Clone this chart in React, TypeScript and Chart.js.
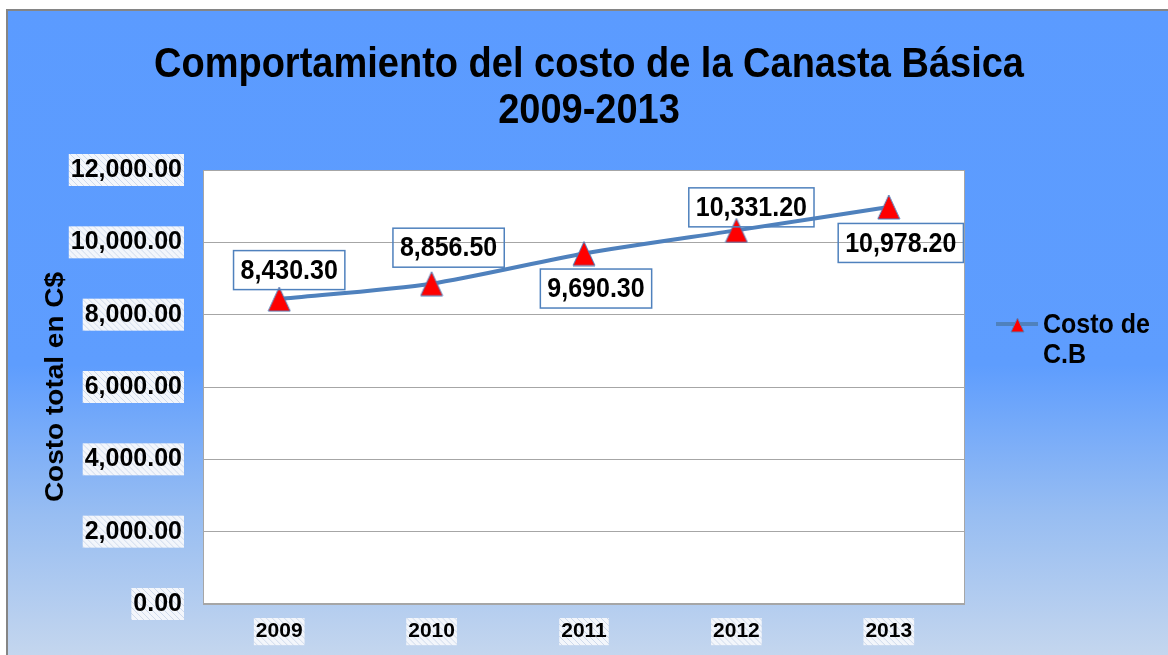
import React, { useEffect, useRef } from 'react';
import { Chart, registerables } from 'chart.js';

Chart.register(...registerables);

const years = ['2009', '2010', '2011', '2012', '2013'];
const costs = [8430.3, 8856.5, 9690.3, 10331.2, 10978.2];
const yMin = 0;
const yMax = 12000;
const yStep = 2000;
const titleLines = ['Comportamiento del costo de la Canasta Básica', '2009-2013'];
const yAxisTitle = 'Costo total en C$';
const legendLines = ['Costo de', 'C.B'];
// style: offset of each value label box relative to its point
const labelOffsets = [
  [10, -29],
  [17, -36],
  [12, 35],
  [15, -23],
  [12, 36],
];

const FAMILY = '"Liberation Sans", Arial, sans-serif';
const LINE_COLOR = '#4f81bd';
const STRETCH = 1.12;

const fmt = (v: number) =>
  Number(v).toLocaleString('en-US', { minimumFractionDigits: 2, maximumFractionDigits: 2 });

function makeTriangle(w: number, h: number, lw: number) {
  const c = document.createElement('canvas');
  c.width = w + 2;
  c.height = h + 2;
  const g = c.getContext('2d')!;
  g.beginPath();
  g.moveTo((w + 2) / 2, 1);
  g.lineTo(w + 1, h + 1);
  g.lineTo(1, h + 1);
  g.closePath();
  g.fillStyle = '#ff0000';
  g.fill();
  g.strokeStyle = LINE_COLOR;
  g.lineWidth = lw;
  g.stroke();
  return c;
}

function makePattern(ctx: CanvasRenderingContext2D) {
  const c = document.createElement('canvas');
  c.width = 6;
  c.height = 6;
  const g = c.getContext('2d')!;
  g.fillStyle = '#f3f6fb';
  g.fillRect(0, 0, 6, 6);
  g.strokeStyle = '#cfdaec';
  g.lineWidth = 1;
  g.beginPath();
  g.moveTo(-1, -1);
  g.lineTo(7, 7);
  g.moveTo(-4, 2);
  g.lineTo(4, 10);
  g.moveTo(2, -4);
  g.lineTo(10, 4);
  g.stroke();
  return ctx.createPattern(c, 'repeat');
}

const decorPlugin = {
  id: 'decor',
  beforeDraw(chart: any) {
    const { ctx, chartArea: a, width, height } = chart;
    ctx.save();
    ctx.fillStyle = '#ffffff';
    ctx.fillRect(0, 0, width, height);
    const grad = ctx.createLinearGradient(0, 11, 0, height);
    grad.addColorStop(0, '#5b9bff');
    grad.addColorStop(0.55, '#5e9dfe');
    grad.addColorStop(0.78, '#97bdf2');
    grad.addColorStop(1, '#c4d6ee');
    ctx.fillStyle = grad;
    ctx.fillRect(8, 11, width - 8, height - 11);
    ctx.strokeStyle = '#858585';
    ctx.lineWidth = 2;
    ctx.beginPath();
    ctx.moveTo(7, height);
    ctx.lineTo(7, 10);
    ctx.lineTo(width, 10);
    ctx.stroke();
    ctx.fillStyle = '#ffffff';
    ctx.fillRect(a.left, a.top, a.right - a.left, a.bottom - a.top);
    ctx.restore();
  },
  beforeDatasetsDraw(chart: any) {
    const { ctx, chartArea: a } = chart;
    ctx.save();
    ctx.strokeStyle = '#a6a6a6';
    ctx.lineWidth = 1;
    ctx.strokeRect(a.left + 0.5, a.top + 0.5, a.right - a.left - 1, a.bottom - a.top - 1);
    ctx.restore();
  },
  afterDatasetsDraw(chart: any) {
    const { ctx } = chart;
    const meta = chart.getDatasetMeta(0);
    ctx.save();
    ctx.font = `bold 25px ${FAMILY}`;
    ctx.textAlign = 'center';
    ctx.textBaseline = 'middle';
    meta.data.forEach((el: any, i: number) => {
      const text = fmt(costs[i]);
      const tw = ctx.measureText(text).width;
      const bw = tw + 14;
      const bh = 39;
      const cx = el.x + labelOffsets[i][0];
      const cy = el.y + labelOffsets[i][1];
      ctx.strokeStyle = LINE_COLOR;
      ctx.lineWidth = 1.5;
      ctx.strokeRect(cx - bw / 2, cy - bh / 2, bw, bh);
      ctx.save();
      ctx.translate(cx, cy + 1);
      ctx.scale(1, STRETCH);
      ctx.fillStyle = '#000';
      ctx.fillText(text, 0, 0);
      ctx.restore();
    });
    ctx.restore();
  },
  afterDraw(chart: any) {
    const { ctx, chartArea: a } = chart;
    ctx.save();
    ctx.fillStyle = '#000';
    // title
    ctx.font = `bold 38px ${FAMILY}`;
    ctx.textAlign = 'center';
    ctx.textBaseline = 'alphabetic';
    const baselines = [77, 123];
    titleLines.forEach((t, i) => {
      ctx.save();
      ctx.translate(589, baselines[i]);
      ctx.scale(1, STRETCH);
      ctx.fillText(t, 0, 0);
      ctx.restore();
    });
    // y axis title
    ctx.save();
    ctx.font = `bold 25px ${FAMILY}`;
    ctx.translate(56, (a.top + a.bottom) / 2);
    ctx.rotate(-Math.PI / 2);
    ctx.scale(STRETCH, 1);
    ctx.textBaseline = 'middle';
    ctx.fillText(yAxisTitle, 0, 0);
    ctx.restore();
    // legend
    ctx.strokeStyle = LINE_COLOR;
    ctx.lineWidth = 4;
    ctx.beginPath();
    ctx.moveTo(996, 324);
    ctx.lineTo(1038, 324);
    ctx.stroke();
    const tri = makeTriangle(13, 14, 1);
    ctx.drawImage(tri, 1017.5 - tri.width / 2, 325 - tri.height / 2);
    ctx.font = `bold 25px ${FAMILY}`;
    ctx.textAlign = 'left';
    const lb = [333, 363];
    legendLines.forEach((t, i) => {
      ctx.save();
      ctx.translate(1043, lb[i]);
      ctx.scale(1, STRETCH);
      ctx.fillText(t, 0, 0);
      ctx.restore();
    });
    ctx.restore();
  },
};

export default function App() {
  const ref = useRef<HTMLCanvasElement>(null);
  useEffect(() => {
    const canvas = ref.current!;
    const ctx = canvas.getContext('2d')!;
    const pattern = makePattern(ctx);
    const marker = makeTriangle(22, 24, 1);
    const chart = new Chart(canvas, {
      type: 'line',
      data: {
        labels: years,
        datasets: [
          {
            label: legendLines.join(' '),
            data: costs,
            borderColor: LINE_COLOR,
            borderWidth: 4,
            tension: 0.25,
            pointStyle: marker as any,
            pointRadius: 12,
            fill: false,
          },
        ],
      },
      options: {
        responsive: false,
        animation: false,
        layout: { padding: { top: 170, right: 203, left: 0, bottom: 0 } },
        plugins: {
          legend: { display: false },
          title: { display: false },
          tooltip: { enabled: false },
        },
        scales: {
          x: {
            offset: true,
            grid: { display: false, drawTicks: false },
            border: { display: false },
            ticks: {
              color: '#000',
              font: { family: FAMILY, size: 21, weight: 'bold' },
              padding: 15,
              showLabelBackdrop: true,
              backdropColor: pattern as any,
              backdropPadding: { x: 2, y: 1 } as any,
            },
            afterFit: (s: any) => {
              s.height = 51;
            },
          },
          y: {
            min: yMin,
            max: yMax,
            grid: { color: '#a6a6a6', lineWidth: 1, drawTicks: false },
            border: { display: false },
            ticks: {
              stepSize: yStep,
              color: '#000',
              font: { family: FAMILY, size: 25, weight: 'bold' },
              padding: 21,
              callback: (v: any) => fmt(v),
              showLabelBackdrop: true,
              backdropColor: pattern as any,
              backdropPadding: { x: 2, y: 1 } as any,
            },
            afterFit: (s: any) => {
              s.width = 203;
            },
          },
        },
      } as any,
      plugins: [decorPlugin],
    });
    return () => chart.destroy();
  }, []);
  return (
    <div style={{ position: 'absolute', left: 0, top: 0, width: 1168, height: 655 }}>
      <canvas ref={ref} width={1168} height={655} style={{ display: 'block' }} />
    </div>
  );
}
